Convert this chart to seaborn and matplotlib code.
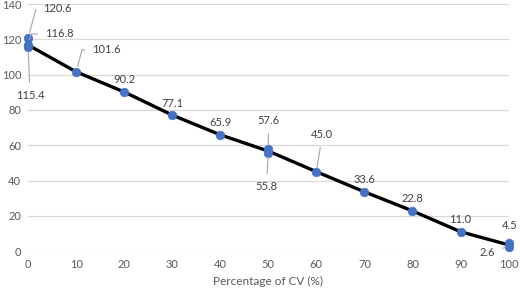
import pandas as pd
import seaborn as sns
import matplotlib.pyplot as plt

# valores
pct_cv = [0, 0, 0, 10, 20, 30, 40, 50, 50, 60, 70, 80, 90, 100, 100]
valores = [120.6, 116.8, 115.4, 101.6, 90.2, 77.1, 65.9, 57.6, 55.8, 45.0, 33.6, 22.8, 11.0, 4.5, 2.6]
rotulos = ['120.6', '116.8', '115.4', '101.6', '90.2', '77.1', '65.9', '57.6', '55.8',
           '45.0', '33.6', '22.8', '11.0', '4.5', '2.6']

dados = pd.DataFrame({'pct': pct_cv, 'valor': valores})

sns.set_theme(style='white')
plt.rcParams['font.family'] = ['Lato', 'DejaVu Sans']

cinza = '#595959'
azul = '#4472C4'

fig = plt.figure(figsize=(5.2, 2.89), dpi=100)
ax = fig.add_axes([0.054, 0.131, 0.924, 0.855])

# linha (mediana em cada x) e pontos
sns.lineplot(data=dados, x='pct', y='valor', estimator='median', errorbar=None,
             color='black', lw=2.4, ax=ax, zorder=3)
sns.scatterplot(data=dados, x='pct', y='valor', color=azul, s=38, edgecolor=azul,
                ax=ax, zorder=4, clip_on=False)

# posição dos rótulos (offset em pixels), alinhamento e tipo de linha guia
offsets = [(15, 30), (17, 11), (2, -48), (16, 22), (0, 12), (0, 12), (0, 12),
           (0, 29), (-2, -34), (6, 37), (0, 12), (0, 12), (0, 12), (1, 18), (-21, -6)]
alinh = ['left', 'left', 'center', 'left'] + ['center'] * 11
# None = sem guia, 'reta' = linha reta, outro = cotovelo
guia = ['cot', 'cot', 'reta', 'cot', None, None, None, 'reta', 'reta', 'reta',
        None, None, None, 'reta', 'reta']

for x, y, txt, (dx, dy), ha, g in zip(pct_cv, valores, rotulos, offsets, alinh, guia):
    props = None
    if g == 'reta':
        props = dict(arrowstyle='-', color='#a6a6a6', lw=0.8, shrinkA=3, shrinkB=3)
    elif g == 'cot':
        props = dict(arrowstyle='-', color='#a6a6a6', lw=0.8, shrinkA=3, shrinkB=4,
                     relpos=(0, 0.5), connectionstyle='angle,angleA=0,angleB=75,rad=0')
    ax.annotate(txt, (x, y), xytext=(dx, dy), textcoords='offset pixels',
                ha=ha, va='center', fontsize=8, color='#404040',
                arrowprops=props, zorder=5)

ax.set_xlim(0, 100)
ax.set_ylim(0, 140)
ax.set_xticks(range(0, 101, 10))
ax.set_yticks(range(0, 141, 20))
ax.yaxis.grid(True, color='#d9d9d9', lw=0.9)
ax.xaxis.grid(False)
for lado in ['top', 'right', 'left', 'bottom']:
    ax.spines[lado].set_visible(False)
ax.tick_params(axis='x', length=0, labelsize=8, labelcolor=cinza, pad=6)
ax.tick_params(axis='y', length=0, labelsize=8, labelcolor=cinza, pad=5)
ax.set_xlabel('Percentage of CV (%)', fontsize=8.5, color=cinza, labelpad=4)
ax.set_ylabel('')

plt.savefig('out.png', dpi=100)
